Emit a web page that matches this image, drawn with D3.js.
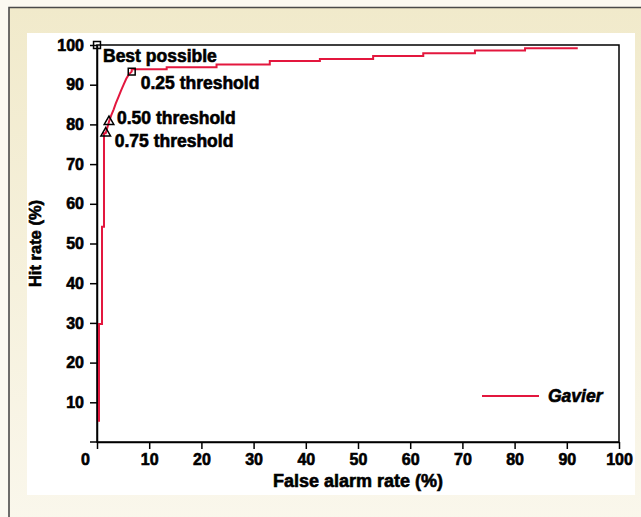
<!DOCTYPE html>
<html>
<head>
<meta charset="utf-8">
<script src="https://cdn.jsdelivr.net/npm/d3@7"></script>
<style>
  html, body { margin: 0; padding: 0; background: #fbf9f1; }
  svg { display: block; }
  text { font-family: "Liberation Sans", Arial, sans-serif; font-weight: bold; fill: #000; }
</style>
</head>
<body>
<svg id="chart" width="641" height="517"></svg>
<script>
// ROC curve vertices: false alarm rate (%) and hit rate (%)
const falseAlarm = [0.38, 0.38, 0.96, 0.96, 1.34, 1.34, 1.67, 2.3, 2.7, 3.2, 3.6, 4.1, 4.6, 5.1, 5.6, 6.1, 6.65,
                    6.65, 13.35, 13.35, 22.9, 22.9, 33.1, 33.1, 42.7, 42.7, 52.9, 52.9, 62.5, 62.5, 72.4, 72.4, 82.0, 82.0, 92.1];
const hitRate    = [5.1, 29.7, 29.7, 54.2, 54.2, 77.8, 77.8, 80.7, 82.2, 83.8, 85.3, 86.9, 88.5, 90.0, 91.5, 92.6, 93.3,
                    93.9, 93.9, 94.4, 94.4, 95.1, 95.1, 96.0, 96.0, 96.5, 96.5, 97.2, 97.2, 97.9, 97.9, 98.6, 98.6, 99.2, 99.2];

// Annotated points on the curve
const markerLabels = ["Best possible", "0.25 threshold", "0.50 threshold", "0.75 threshold"];
const markerX      = [0, 6.65, 2.3, 1.67];
const markerY      = [100, 93.3, 80.7, 77.8];
const markerShapes = ["square", "square", "triangle", "triangle"];

const xTicks = [0, 10, 20, 30, 40, 50, 60, 70, 80, 90, 100];
const yTicks = [10, 20, 30, 40, 50, 60, 70, 80, 90, 100];

const seriesName = "Gavier";
const xTitle = "False alarm rate (%)";
const yTitle = "Hit rate (%)";

const svg = d3.select("#chart");
const W = 641, H = 517;

// Frame with soft vertical gradient
const defs = svg.append("defs");
const grad = defs.append("linearGradient").attr("id", "bg").attr("x1", 0).attr("y1", 0).attr("x2", 0).attr("y2", 1);
grad.append("stop").attr("offset", "0%").attr("stop-color", "#f1eacb");
grad.append("stop").attr("offset", "100%").attr("stop-color", "#faf7ec");

svg.append("rect").attr("x", 0).attr("y", 0).attr("width", W).attr("height", H).attr("fill", "#fbf9f1");
svg.append("rect").attr("x", 9).attr("y", 7).attr("width", W).attr("height", H).attr("fill", "url(#bg)");
svg.append("path").attr("d", `M9,${H} V7.5 H${W}`).attr("fill", "none").attr("stroke", "#4a4a4a").attr("stroke-width", 1.6);

// White panel
svg.append("rect").attr("x", 27).attr("y", 33).attr("width", 608).attr("height", 462).attr("fill", "#ffffff");

// Plot area
const plotL = 97, plotR = 619, plotT = 45, plotB = 442;
const x = d3.scaleLinear().domain([0, 100]).range([plotL, plotR]);
const y = d3.scaleLinear().domain([0, 100]).range([plotB, plotT]);

const tickFont = 16, labelFont = 17.5, titleFont = 18;

// Box around the plot
svg.append("rect").attr("x", plotL).attr("y", plotT).attr("width", plotR - plotL).attr("height", plotB - plotT)
  .attr("fill", "none").attr("stroke", "#000").attr("stroke-width", 1.5);

// Axes
const xAxis = svg.append("g").attr("transform", `translate(0,${plotB})`)
  .call(d3.axisBottom(x).tickValues(xTicks).tickSize(7).tickSizeOuter(0).tickPadding(5));
const yAxis = svg.append("g").attr("transform", `translate(${plotL},0)`)
  .call(d3.axisLeft(y).tickValues(yTicks).tickSize(7).tickSizeOuter(0).tickPadding(6));
// y tick at zero
svg.append("line").attr("x1", plotL - 7).attr("x2", plotL).attr("y1", y(0)).attr("y2", y(0))
  .attr("stroke", "#000").attr("stroke-width", 1.5);

[xAxis, yAxis].forEach(g => {
  g.select(".domain").attr("stroke", "#000").attr("stroke-width", 1.5);
  g.selectAll(".tick line").attr("stroke", "#000").attr("stroke-width", 1.5);
  g.selectAll(".tick text")
    .attr("font-family", "Liberation Sans, Arial, sans-serif")
    .attr("font-weight", "bold")
    .attr("font-size", tickFont)
    .attr("fill", "#000")
    .attr("stroke", "#000").attr("stroke-width", 0.6);
});
// zero label sits left of the corner
xAxis.selectAll(".tick text").filter(d => d === 0).attr("dx", -12);

// Axis titles
svg.append("text").attr("x", (plotL + plotR) / 2).attr("y", 487)
  .attr("text-anchor", "middle").attr("font-size", titleFont)
  .attr("stroke", "#000").attr("stroke-width", 0.6).text(xTitle);
svg.append("text").attr("transform", `translate(41,${(plotT + plotB) / 2}) rotate(-90)`)
  .attr("text-anchor", "middle").attr("font-size", 16.5)
  .attr("stroke", "#000").attr("stroke-width", 0.6).text(yTitle);

// ROC curve
const pts = falseAlarm.map((fa, i) => [fa, hitRate[i]]);
const line = d3.line().x(d => x(d[0])).y(d => y(d[1]));
svg.append("path").datum(pts).attr("d", line)
  .attr("fill", "none").attr("stroke", "#e3173e").attr("stroke-width", 2);

// Markers
const sym = { square: d3.symbolSquare, triangle: d3.symbolTriangle };
markerX.forEach((mx, i) => {
  const s = markerShapes[i] === "square" ? 48 : 40;
  svg.append("path")
    .attr("d", d3.symbol().type(sym[markerShapes[i]]).size(s))
    .attr("transform", `translate(${x(mx)},${y(markerY[i])})`)
    .attr("fill", "none").attr("stroke", "#000").attr("stroke-width", 1.5);
});

// Marker labels
const labelOffsets = [[6, 17], [9, 17], [8, 2], [9, 14]];
markerLabels.forEach((t, i) => {
  svg.append("text")
    .attr("x", x(markerX[i]) + labelOffsets[i][0])
    .attr("y", y(markerY[i]) + labelOffsets[i][1])
    .attr("font-size", labelFont)
    .attr("stroke", "#000").attr("stroke-width", 0.6)
    .text(t);
});

// Legend
const lg = svg.append("g").attr("transform", "translate(482,396)");
lg.append("line").attr("x1", 0).attr("x2", 57).attr("y1", 0).attr("y2", 0)
  .attr("stroke", "#e3173e").attr("stroke-width", 2);
lg.append("text").attr("x", 66).attr("y", 6).attr("font-size", 17.5)
  .attr("font-style", "italic").attr("stroke", "#000").attr("stroke-width", 0.6).text(seriesName);
</script>
</body>
</html>
